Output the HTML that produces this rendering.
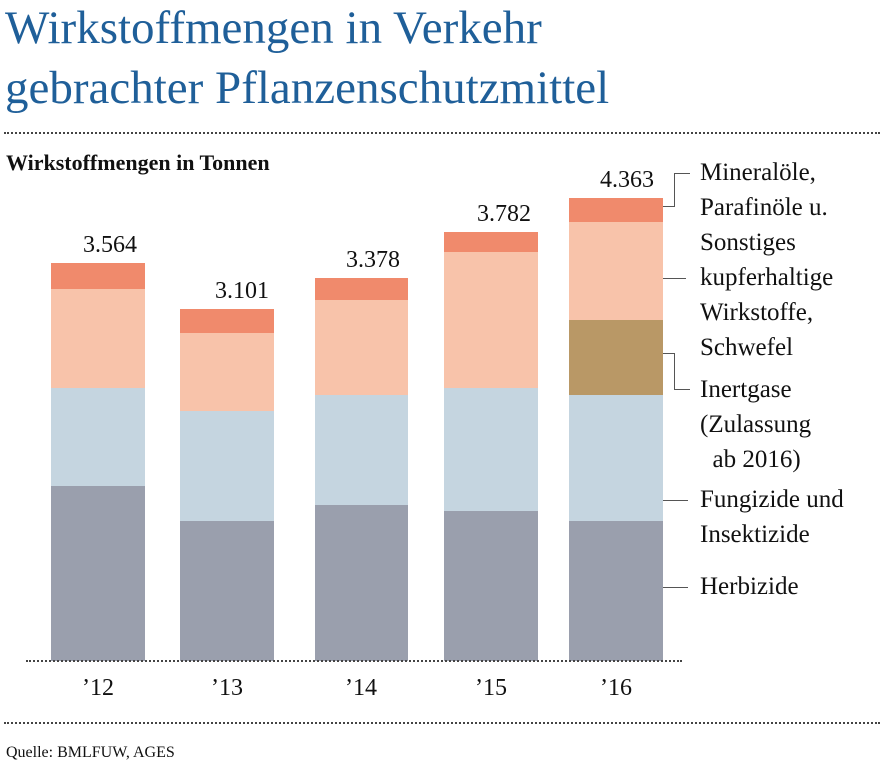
<!DOCTYPE html><html><head><meta charset="utf-8"><style>
body{margin:0;width:883px;height:771px;background:#fff;position:relative;overflow:hidden;font-family:"Liberation Serif",serif;color:#111}
.a{position:absolute;white-space:nowrap}
.t{color:#1f5f99;font-size:47px;left:5px;line-height:56px}
.dot{position:absolute;border-top:2px dotted #444;height:0}
.b{position:absolute}
.lg{font-size:25px;left:700px;line-height:35px}
.v{font-size:24px;text-align:center;width:100px}
.y{font-size:24px;text-align:center;width:100px;top:675px}
.ln{position:absolute;background:#555}
</style></head><body>
<div class="a t" style="top:0px">Wirkstoffmengen in Verkehr</div>
<div class="a t" style="top:60px">gebrachter Pflanzenschutzmittel</div>
<div class="dot" style="left:4px;width:876px;top:132px"></div>
<div class="a" style="left:6px;top:150px;font-size:22px;font-weight:bold">Wirkstoffmengen in Tonnen</div>

<div class="b" style="left:51px;width:94px;top:263px;height:26px;background:#f08a6c"></div>
<div class="b" style="left:51px;width:94px;top:289px;height:99px;background:#f8c3aa"></div>
<div class="b" style="left:51px;width:94px;top:388px;height:98px;background:#c5d5e0"></div>
<div class="b" style="left:51px;width:94px;top:486px;height:175px;background:#9a9fad"></div>

<div class="b" style="left:180px;width:94px;top:309px;height:24px;background:#f08a6c"></div>
<div class="b" style="left:180px;width:94px;top:333px;height:78px;background:#f8c3aa"></div>
<div class="b" style="left:180px;width:94px;top:411px;height:110px;background:#c5d5e0"></div>
<div class="b" style="left:180px;width:94px;top:521px;height:140px;background:#9a9fad"></div>

<div class="b" style="left:315px;width:93px;top:278px;height:22px;background:#f08a6c"></div>
<div class="b" style="left:315px;width:93px;top:300px;height:95px;background:#f8c3aa"></div>
<div class="b" style="left:315px;width:93px;top:395px;height:110px;background:#c5d5e0"></div>
<div class="b" style="left:315px;width:93px;top:505px;height:156px;background:#9a9fad"></div>

<div class="b" style="left:444px;width:94px;top:232px;height:20px;background:#f08a6c"></div>
<div class="b" style="left:444px;width:94px;top:252px;height:136px;background:#f8c3aa"></div>
<div class="b" style="left:444px;width:94px;top:388px;height:123px;background:#c5d5e0"></div>
<div class="b" style="left:444px;width:94px;top:511px;height:150px;background:#9a9fad"></div>

<div class="b" style="left:569px;width:94px;top:198px;height:24px;background:#f08a6c"></div>
<div class="b" style="left:569px;width:94px;top:222px;height:98px;background:#f8c3aa"></div>
<div class="b" style="left:569px;width:94px;top:320px;height:75px;background:#b99866"></div>
<div class="b" style="left:569px;width:94px;top:395px;height:126px;background:#c5d5e0"></div>
<div class="b" style="left:569px;width:94px;top:521px;height:140px;background:#9a9fad"></div>

<div class="dot" style="left:26px;width:656px;top:660px"></div>

<div class="a v" style="left:60px;top:232px">3.564</div>
<div class="a v" style="left:192px;top:278px">3.101</div>
<div class="a v" style="left:323px;top:247px">3.378</div>
<div class="a v" style="left:454px;top:201px">3.782</div>
<div class="a v" style="left:577px;top:167px">4.363</div>

<div class="a y" style="left:48px">’12</div>
<div class="a y" style="left:177px">’13</div>
<div class="a y" style="left:311px">’14</div>
<div class="a y" style="left:441px">’15</div>
<div class="a y" style="left:566px">’16</div>

<div class="ln" style="left:663px;top:206px;width:12px;height:1px"></div>
<div class="ln" style="left:674px;top:173px;width:1px;height:34px"></div>
<div class="ln" style="left:674px;top:173px;width:16px;height:1px"></div>
<div class="ln" style="left:663px;top:278px;width:23px;height:1px"></div>
<div class="ln" style="left:663px;top:353px;width:12px;height:1px"></div>
<div class="ln" style="left:674px;top:353px;width:1px;height:36px"></div>
<div class="ln" style="left:674px;top:389px;width:16px;height:1px"></div>
<div class="ln" style="left:663px;top:500px;width:25px;height:1px"></div>
<div class="ln" style="left:663px;top:587px;width:25px;height:1px"></div>

<div class="a lg" style="top:155px">Mineralöle,<br>Parafinöle u.<br>Sonstiges<br>kupferhaltige<br>Wirkstoffe,<br>Schwefel</div>
<div class="a lg" style="top:372px">Inertgase<br>(Zulassung<br>&nbsp;&nbsp;ab 2016)</div>
<div class="a lg" style="top:482px">Fungizide und<br>Insektizide</div>
<div class="a lg" style="top:569px">Herbizide</div>

<div class="dot" style="left:4px;width:876px;top:722px"></div>
<div class="a" style="left:6px;top:744px;font-size:16px">Quelle: BMLFUW, AGES</div>
</body></html>
